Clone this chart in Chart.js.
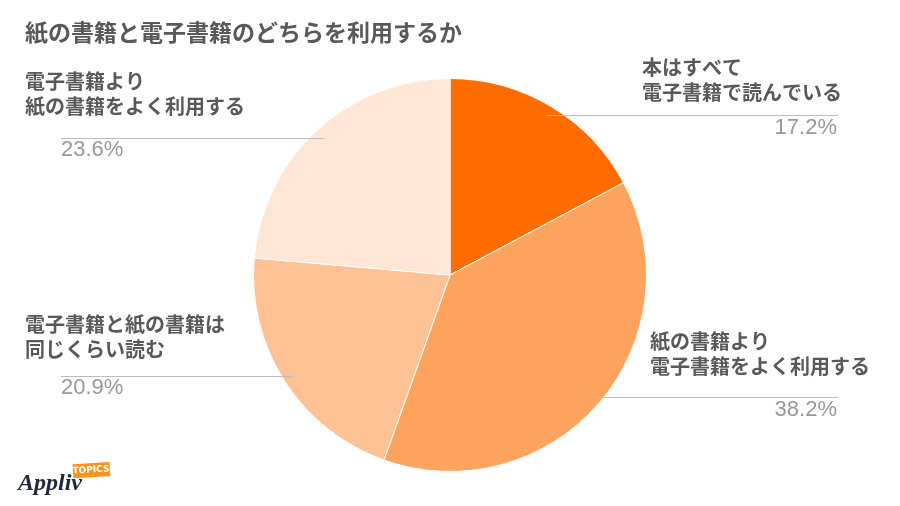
<!DOCTYPE html>
<html>
<head>
<meta charset="utf-8">
<script src="https://cdn.jsdelivr.net/npm/chart.js@4.4.1/dist/chart.umd.min.js"></script>
<style>
  html, body { margin: 0; padding: 0; background: #fff; }
  #wrap { position: relative; width: 900px; height: 506px; }
</style>
</head>
<body>
<div id="wrap"><canvas id="myChart" width="900" height="506"></canvas></div>
<script>
// data
const titleText = '紙の書籍と電子書籍のどちらを利用するか';
const categories = [
  ['本はすべて', '電子書籍で読んでいる'],
  ['紙の書籍より', '電子書籍をよく利用する'],
  ['電子書籍と紙の書籍は', '同じくらい読む'],
  ['電子書籍より', '紙の書籍をよく利用する']
];
const shares = [17.2, 38.2, 20.9, 23.6];
const sliceColors = ['#ff6d01', '#ffa45f', '#ffc294', '#ffe6d5'];

// where each callout sits (text x, first line y, leader line y, side)
const calloutLayout = [
  { tx: 642, ty: 67, ly: 115, side: 'right' },
  { tx: 650, ty: 341, ly: 397, side: 'right' },
  { tx: 25, ty: 324, ly: 376, side: 'left' },
  { tx: 25, ty: 81, ly: 138, side: 'left' }
];

const calloutPlugin = {
  id: 'callouts',
  afterDraw(chart) {
    const ctx = chart.ctx;
    const meta = chart.getDatasetMeta(0);
    ctx.save();
    // title
    ctx.fillStyle = '#595959';
    ctx.font = 'bold 23px "Noto Sans CJK JP"';
    ctx.textBaseline = 'middle';
    ctx.textAlign = 'left';
    ctx.fillText(titleText, 25, 32);

    meta.data.forEach((arc, i) => {
      const p = arc.getProps(['x', 'y', 'startAngle', 'endAngle'], true);
      const mid = (p.startAngle + p.endAngle) / 2;
      const lay = calloutLayout[i];
      const t = (lay.ly - p.y) / Math.sin(mid);
      const sx = p.x + Math.cos(mid) * t;

      // leader line
      ctx.strokeStyle = '#bdbdbd';
      ctx.lineWidth = 1;
      ctx.beginPath();
      if (lay.side === 'right') {
        ctx.moveTo(sx, lay.ly + 0.5);
        ctx.lineTo(838, lay.ly + 0.5);
      } else {
        ctx.moveTo(61, lay.ly + 0.5);
        ctx.lineTo(sx, lay.ly + 0.5);
      }
      ctx.stroke();

      // category text
      ctx.fillStyle = '#595959';
      ctx.font = 'bold 20px "Noto Sans CJK JP"';
      ctx.textAlign = 'left';
      categories[i].forEach((line, k) => {
        ctx.fillText(line, lay.tx, lay.ty + k * 25);
      });

      // value
      ctx.fillStyle = '#999999';
      ctx.font = '22px "Liberation Sans"';
      const val = shares[i].toFixed(1) + '%';
      if (lay.side === 'right') {
        ctx.textAlign = 'right';
        ctx.fillText(val, 837, lay.ly + 13);
      } else {
        ctx.textAlign = 'left';
        ctx.fillText(val, 61, lay.ly + 12);
      }
    });

    // logo
    ctx.save();
    ctx.translate(92, 470);
    ctx.rotate(-0.06);
    ctx.fillStyle = '#f7941d';
    ctx.fillRect(-19, -7, 37, 14);
    ctx.fillStyle = '#ffffff';
    ctx.font = 'bold 9px "DejaVu Sans"';
    ctx.textAlign = 'center';
    ctx.fillText('TOPICS', -1, 0);
    ctx.restore();
    ctx.fillStyle = '#1e2a3a';
    ctx.font = 'italic bold 24px "Liberation Serif"';
    ctx.textAlign = 'left';
    ctx.fillText('Appliv', 18, 484);
    ctx.restore();
  }
};

new Chart(document.getElementById('myChart'), {
  type: 'pie',
  data: {
    labels: categories.map(c => c.join('')),
    datasets: [{
      data: shares,
      backgroundColor: sliceColors,
      borderColor: '#ffffff',
      borderWidth: 1
    }]
  },
  options: {
    responsive: false,
    animation: false,
    layout: { padding: { top: 78, bottom: 34, left: 200, right: 200 } },
    plugins: {
      legend: { display: false },
      tooltip: { enabled: false },
      title: { display: false }
    }
  },
  plugins: [calloutPlugin]
});
</script>
</body>
</html>
